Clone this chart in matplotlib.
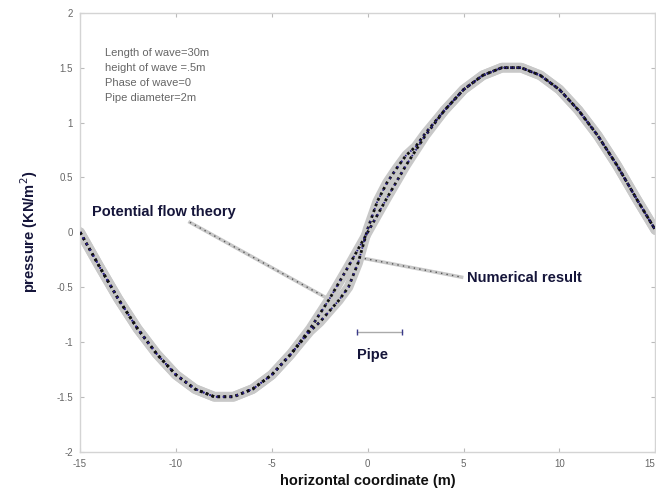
import numpy as np
import matplotlib.pyplot as plt

plt.rcParams['font.family'] = ['Liberation Sans', 'DejaVu Sans']

# potential flow theory
x_th = [-15, -14, -13, -12, -11, -10, -9, -8, -7, -6, -5, -4, -3, -2, -1, 0,
        1, 2, 3, 4, 5, 6, 7, 8, 9, 10, 11, 12, 13, 14, 15]
p_th = [0.0, -0.31, -0.61, -0.88, -1.11, -1.30, -1.43, -1.50, -1.50, -1.43, -1.30,
        -1.11, -0.88, -0.61, -0.31, 0.0, 0.31, 0.61, 0.88, 1.11, 1.30, 1.43, 1.50,
        1.50, 1.43, 1.30, 1.11, 0.88, 0.61, 0.31, 0.02]

# numerical result (differs near the pipe)
x_num = [-15, -14, -13, -12, -11, -10, -9, -8, -7, -6, -5, -4, -3, -2.5, -2, -1.5,
         -1, -0.5, 0, 0.5, 1, 1.5, 2, 2.5, 3, 4, 5, 6, 7, 8, 9, 10, 11, 12, 13, 14, 15]
p_num = [0.0, -0.31, -0.61, -0.88, -1.11, -1.30, -1.43, -1.50, -1.50, -1.43, -1.30,
         -1.11, -0.90, -0.82, -0.72, -0.62, -0.50, -0.28, 0.03, 0.28, 0.45, 0.58,
         0.70, 0.78, 0.90, 1.11, 1.30, 1.43, 1.50, 1.50, 1.43, 1.30, 1.11, 0.88,
         0.61, 0.31, 0.02]

xticks = [-15, -10, -5, 0, 5, 10, 15]
yticks = [-2, -1.5, -1, -0.5, 0, 0.5, 1, 1.5, 2]
ytlabels = ['-2', '-1.5', '-1', '-0.5', '0', '0.5', '1', '1.5', '2']
info = ['Length of wave=30m', 'height of wave =.5m', 'Phase of wave=0', 'Pipe diameter=2m']

fig = plt.figure(figsize=(6.56, 4.93), dpi=100)
ax = fig.add_axes([0.122, 0.084, 0.877, 0.89])

for xs, ps in [(x_th, p_th), (x_num, p_num)]:
    ax.plot(xs, ps, color='#c8c8c8', lw=7, solid_capstyle='round', zorder=2)
    ax.plot(xs, ps, color='#111111', lw=2, ls=(0, (1, 1.2)), zorder=3)
    ax.plot(xs, ps, color='#2a1f8a', lw=1.3, ls=(0.5, (0.8, 3)), zorder=4)

# leader lines
for lx, ly in [([-9.27, -2.24], [0.09, -0.59]), ([-0.16, 4.9], [-0.24, -0.41])]:
    ax.plot(lx, ly, color='#c8c8c8', lw=2.5, zorder=1)
    ax.plot(lx, ly, color='#555555', lw=1, ls=(0, (1, 3)), zorder=1)

# pipe
ax.plot([-0.57, 1.77], [-0.91, -0.91], color='#aaaaaa', lw=1, marker='|', ms=4,
        mec='#3a3a8a')

ax.text(-14.4, 0.18, 'Potential flow theory', fontsize=10.5, fontweight='bold',
        color='#15153a', va='center', ha='left')
ax.text(5.2, -0.42, 'Numerical result', fontsize=10.5, fontweight='bold',
        color='#15153a', va='center', ha='left')
ax.text(-0.57, -1.12, 'Pipe', fontsize=10.5, fontweight='bold',
        color='#15153a', va='center', ha='left')

for i, s in enumerate(info):
    ax.text(-13.7, 1.63 - i * 0.135, s, fontsize=8, color='#666666',
            va='center', ha='left')

ax.set_xlim(-15, 15)
ax.set_ylim(-2, 2)
ax.set_xticks(xticks)
ax.set_xticklabels([str(t) for t in xticks])
ax.get_xticklabels()[-1].set_ha('right')
ax.set_yticks(yticks)
ax.set_yticklabels(ytlabels)
ax.tick_params(direction='in', top=True, right=True, length=3, color='#bbbbbb',
               labelsize=7, labelcolor='#666666', pad=5)
for sp in ax.spines.values():
    sp.set_color('#d4d4d4')
    sp.set_linewidth(1)

ax.set_xlabel('horizontal coordinate (m)', fontsize=10.5, fontweight='bold',
              color='#111111', labelpad=4)
ax.set_ylabel('pressure (KN/m$^2$)', fontsize=10.5, fontweight='bold',
              color='#15153a', labelpad=12)

fig.savefig('out.png', dpi=100)
